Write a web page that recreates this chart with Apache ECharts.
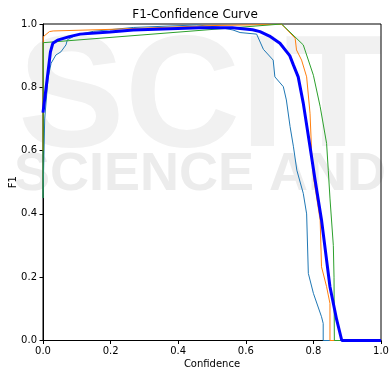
<!DOCTYPE html>
<html>
<head>
<meta charset="utf-8">
<script src="https://cdn.jsdelivr.net/npm/echarts@6/dist/echarts.min.js"></script>
<style>html,body{margin:0;padding:0;background:#fff;}#c{width:390px;height:369px;}</style>
</head>
<body>
<div id="c"></div>
<script>
// Per-class F1 curves: [confidence, F1]
var class0 = [[0,0.45],[0.005,0.70],[0.015,0.83],[0.024,0.876],[0.038,0.902],[0.053,0.912],[0.068,0.934],[0.072,0.950],[0.10,0.966],[0.15,0.977],[0.267,0.989],[0.455,0.997],[0.52,0.990],[0.562,0.981],[0.583,0.973],[0.632,0.968],[0.652,0.920],[0.681,0.886],[0.686,0.833],[0.711,0.802],[0.720,0.760],[0.731,0.676],[0.741,0.612],[0.751,0.538],[0.770,0.465],[0.780,0.400],[0.785,0.212],[0.800,0.149],[0.824,0.075],[0.829,0.054],[0.829,0],[1,0]];
var class1 = [[0,0.60],[0.001,0.960],[0.019,0.976],[0.03,0.978],[0.198,0.983],[0.50,0.995],[0.706,0.999],[0.746,0.955],[0.750,0.918],[0.765,0.886],[0.780,0.833],[0.790,0.718],[0.795,0.590],[0.800,0.518],[0.820,0.380],[0.824,0.233],[0.839,0.170],[0.849,0.117],[0.849,0],[1,0]];
var class2 = [[0,0.45],[0.001,0.941],[0.503,0.983],[0.706,1.0],[0.770,0.934],[0.800,0.838],[0.820,0.739],[0.839,0.623],[0.844,0.538],[0.849,0.450],[0.859,0.300],[0.861,0.200],[0.862,0],[1,0]];
var allClasses = [[0,0.72],[0.012,0.823],[0.022,0.912],[0.029,0.939],[0.043,0.949],[0.078,0.960],[0.11,0.968],[0.198,0.975],[0.267,0.981],[0.464,0.988],[0.56,0.988],[0.583,0.986],[0.62,0.982],[0.642,0.976],[0.67,0.962],[0.701,0.939],[0.73,0.900],[0.741,0.870],[0.755,0.833],[0.77,0.750],[0.79,0.612],[0.805,0.507],[0.824,0.381],[0.849,0.170],[0.869,0.065],[0.884,0],[1,0]];
var titleText = 'F1-Confidence Curve';
var xName = 'Confidence';
var yName = 'F1';

var chart = echarts.init(document.getElementById('c'), null, {renderer:'canvas'});
var font = 'DejaVu Sans';
function axis(name, gap) {
  return {
    type:'value', min:0, max:1, interval:0.2, name:name, nameLocation:'middle', nameGap:gap,
    nameMoveOverlap:false,
    nameTextStyle:{color:'#000', fontFamily:font, fontSize:10},
    axisLine:{show:true, onZero:false, lineStyle:{color:'#000', width:1}},
    axisTick:{show:true, length:3.5, lineStyle:{color:'#000'}},
    axisLabel:{color:'#000', fontFamily:font, fontSize:10, margin:6, formatter:function(v){return v.toFixed(1);}},
    splitLine:{show:false}
  };
}
function line(data, color, width, z) {
  return {type:'line', data:data, showSymbol:false, symbol:'none', smooth:false, animation:false,
    lineStyle:{color:color, width:width}, itemStyle:{color:color}, z:z};
}
chart.setOption({
  animation:false,
  backgroundColor:'#fff',
  title:{text:titleText, left:'center', top:4, textStyle:{fontFamily:font, fontSize:12, fontWeight:'normal', color:'#000'}},
  graphic:[
    {type:'text', z:-10, left:18, top:22, style:{text:'SCIT', font:'bold 160px "Liberation Sans"', fill:'#f1f1f1'}},
    {type:'text', z:-10, left:14, top:148, style:{text:'SCIENCE AND', font:'bold 54px "Liberation Sans"', fill:'#ececec'}}
  ],
  grid:{left:43, right:9, top:24, bottom:28.5, containLabel:false, outerBoundsMode:'none', show:true, borderColor:'#000', borderWidth:1, backgroundColor:'transparent'},
  xAxis:axis(xName, 19),
  yAxis:axis(yName, 25),
  series:[
    line(class0, '#1f77b4', 1, 2),
    line(class1, '#ff7f0e', 1, 3),
    line(class2, '#2ca02c', 1, 4),
    line(allClasses, '#0000ff', 3, 5)
  ]
});
</script>
</body>
</html>
